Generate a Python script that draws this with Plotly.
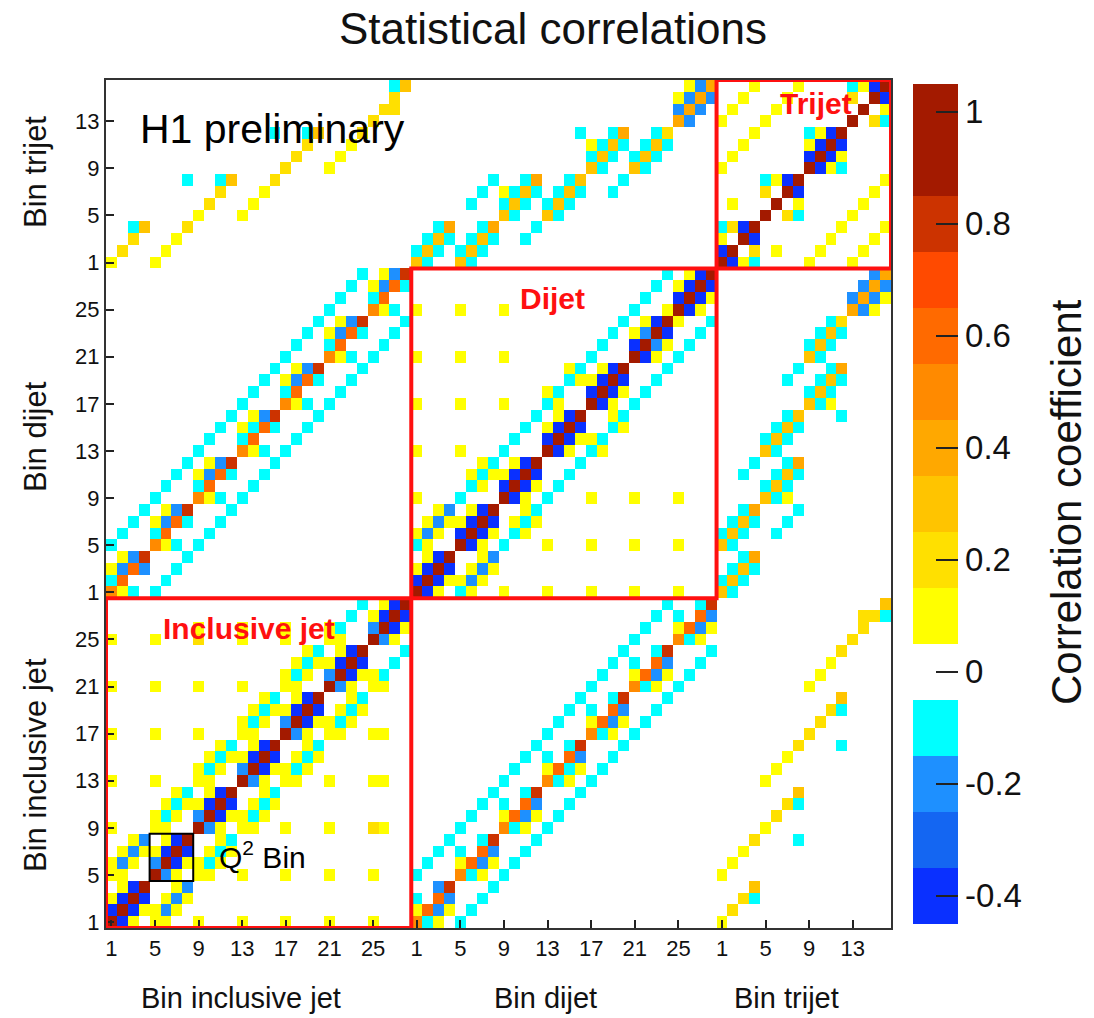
import plotly.graph_objects as go

# ---------------- data ----------------
# level codes: '.'=0, c=-0.1, b=-0.2, B=-0.3, N=-0.4, '1'..'9'=0.1..0.9, X=1.0
LEVELS = {'.': 0.0, 'c': -0.1, 'b': -0.2, 'B': -0.3, 'N': -0.4,
          '1': 0.1, '2': 0.2, '3': 0.3, '4': 0.4, '5': 0.5, '6': 0.6,
          '7': 0.7, '8': 0.8, '9': 0.9, 'X': 1.0}

n_incl, n_dijet, n_trijet = 28, 28, 16
incl_ticks = ["1", "5", "9", "13", "17", "21", "25"]
dijet_ticks = ["1", "5", "9", "13", "17", "21", "25"]
trijet_ticks = ["1", "5", "9", "13"]

# inclusive x inclusive, lower triangle (row r: columns 1..r), groups of 4 bins
ii_lower = [
    "X", "NX", "1NX", ".1NX",
    "11.. X", "1b1. bX", ".1b1 1NX", "..1b .1NX",
    "1... 11.. X", ".... 1c1. bX", ".... .1c1 1NX", ".... ..1c .1NX",
    "1... 1... 11.. X", ".... .... 1c1. bX", ".... .... .1c1 1NX", ".... .... ..1c .1NX",
    "1... 1... 1... 11.. X", ".... .... .... 1c1. bX", ".... .... .... .1c1 1NX", ".... .... .... ..1c .1NX",
    "1... 1... 1... 1... 11.. X", ".... .... .... .... 1c1. bX", ".... .... .... .... .1c1 1NX", ".... .... .... .... ..1c .1NX",
    "1... 1... 2... 1... 1... 11.. X", ".... .... 1... 1... 1... 1c.. bX",
    ".... .... .... .... .... ..c. 1NX", ".... .... .... .... .... ...c .1NX",
]

# dijet rows x inclusive columns
di_block = [
    "51c. c... .... .... .... .... ....",
    "c6.. .c.. .... .... .... .... ....",
    "1b6b ..c. .... .... .... .... ....",
    ".1b8 ...c .... .... .... .... ....",
    "c... 51c. c... .... .... .... ....",
    ".c.. c6.. .c.. .... .... .... ....",
    "..c. 1b6c ..c. .... .... .... ....",
    "...c .1b8 ...c .... .... .... ....",
    ".... c... 51c. c... .... .... ....",
    ".... .c.. c6.. .c.. .... .... ....",
    ".... ..c. 1b6c ..c. .... .... ....",
    ".... ...c .1b8 ...c .... .... ....",
    ".... .... c... 51c. c... .... ....",
    ".... .... .c.. c6.. .c.. .... ....",
    ".... .... ..c. 1c6c ..c. .... ....",
    ".... .... ...c .1b8 ...c .... ....",
    ".... .... .... c... 51c. c... ....",
    ".... .... .... .c.. c6.. .c.. ....",
    ".... .... .... ..c. 1b6c ..c. ....",
    ".... .... .... ...c .1b8 ...c ....",
    ".... .... .... .... c... 51c. c...",
    ".... .... .... .... .c.. c6.. .c..",
    ".... .... .... .... ..c. 1b6c ..c.",
    ".... .... .... .... ...c .1b8 ...c",
    ".... .... .... .... .... c... 51c.",
    ".... .... .... .... .... .c.. c6..",
    ".... .... .... .... .... ..c. 1b6c",
    ".... .... .... .... .... ...c .1b8",
]

# dijet x dijet, lower triangle
dd_lower = [
    "X", "NX", "1NX", ".1NX",
    "c1.. X", "1b1. NX", ".1b1 1NX", "..1b .1NX",
    "1... c... X", ".... .c1. NX", ".... .1c1 1NX", ".... ..1c .1NX",
    "1... 1... c... X", ".... .... .c.. NX", ".... .... ..c. 1NX", ".... .... ...c .1NX",
    "1... 1... 1... c1.. X", ".... .... .... 1c.. NX", ".... .... .... ..c1 1NX", ".... .... .... ..1c .1NX",
    "1... 1... 1... .... c... X", ".... .... .... .... .c.. NX", ".... .... .... .... ..c. 1bX", ".... .... .... .... ...c .1NX",
    "1... 1... 1... .... .... c..1 X", ".... .... .... .... .... .c.. NX",
    ".... .... .... .... .... ..c. 1NX", ".... .... .... .... .... ...c .1NX",
]

# trijet rows x inclusive columns
ti_block = [
    "1... 1... .... .... .... .... ....",
    ".2.. .1.. .... .... .... .... ....",
    "..2. ..1. .... .... .... .... ....",
    "..c3 ...2 .... .... .... .... ....",
    ".... .... 1... 1... .... .... ....",
    ".... .... .2.. .1.. .... .... ....",
    ".... .... ..2. ..1. .... .... ....",
    ".... ...c ..c3 ...2 .... .... ....",
    ".... .... .... .... 2... 1... ....",
    ".... .... .... .... .2.. .1.. ....",
    ".... .... .... .... ..2. ..1. ....",
    ".... .... .... ...c ..c3 ...2 ....",
    ".... .... .... .... .... .... 2...",
    ".... .... .... .... .... .... .22.",
    ".... .... .... .... .... .... ..2.",
    ".... .... .... .... .... .... ..c3",
]

# trijet rows x dijet columns
td_block = [
    "3c.. 3c.. .... .... .... .... ....",
    "c3c. c3c. .... .... .... .... ....",
    ".c3c .c3c ..c. .... .... .... ....",
    "..c4 ..c4 ...c .... .... .... ....",
    ".... .... 3c.. 3c.. .... .... ....",
    ".... .c.. c3c. c3c. .... .... ....",
    ".... ..c. 1c3c .c3c ..c. .... ....",
    ".... ...c ..c4 ..c3 ...c .... ....",
    ".... .... .... .... 3c.. 3c.. ....",
    ".... .... .... .... c3c. c3c. ....",
    ".... .... .... .... 1c3c .c3c ....",
    ".... .... .... ...c ..c4 ..c2 ....",
    ".... .... .... .... .... .... 4b..",
    ".... .... .... .... .... .... b4b.",
    ".... .... .... .... .... .... 1b4b",
    ".... .... .... .... .... .... .1b4",
]

# trijet x trijet, lower triangle
tt_lower = [
    "X", "NX", "1.X", "c2NX",
    ".... X", ".1.. .X", ".... 2.X", ".... c1NX",
    "1... .... X", ".1.. .... NX", "..1. .... 1NX", "...1 .... c1NX",
    "1... 1... .... X", ".1.. .1.. .... .X", "..1. ..1. .... 2.X", "...1 ...1 .... c1NX",
]

# colour bands of the palette (centre value, colour)
band_values = [-0.4, -0.3, -0.2, -0.1, 0.0, 0.1, 0.2, 0.3, 0.4, 0.5, 0.6, 0.7, 0.8, 0.9, 1.0]
band_colors = ["#0a30ff", "#1466f2", "#1e90ff", "#00ffff", "#ffffff", "#ffff00",
               "#ffe000", "#ffc400", "#ffa800", "#ff8a00", "#ff6a00", "#ff4a00",
               "#cc3300", "#a31a00", "#a31a00"]
cbar_ticks = [-0.4, -0.2, 0, 0.2, 0.4, 0.6, 0.8, 1]
cbar_text = ["-0.4", "-0.2", "0", "0.2", "0.4", "0.6", "0.8", "1"]

# ---------------- build matrix ----------------
N = n_incl + n_dijet + n_trijet
Z = [[0.0] * N for _ in range(N)]
o_i, o_d, o_t = 0, n_incl, n_incl + n_dijet


def parse(s):
    return [LEVELS[ch] for ch in s.replace(" ", "")]


def put(r, c, v):
    Z[r][c] = v
    Z[c][r] = v


def fill_lower(rows, off):
    for r, s in enumerate(rows):
        for c, v in enumerate(parse(s)):
            put(off + r, off + c, v)


def fill_block(rows, roff, coff):
    for r, s in enumerate(rows):
        for c, v in enumerate(parse(s)):
            put(roff + r, coff + c, v)


fill_lower(ii_lower, o_i)
fill_lower(dd_lower, o_d)
fill_lower(tt_lower, o_t)
fill_block(di_block, o_d, o_i)
fill_block(ti_block, o_t, o_i)
fill_block(td_block, o_t, o_d)

zmin, zmax = -0.45, 1.05
cs = []
for v, col in zip(band_values, band_colors):
    lo = round((v - 0.05 - zmin) / (zmax - zmin), 6)
    hi = round((v + 0.05 - zmin) / (zmax - zmin), 6)
    cs.append([max(lo, 0.0), col])
    cs.append([min(hi, 1.0), col])

FONT = "Liberation Sans, Arial, Helvetica, sans-serif"

fig = go.Figure()
fig.add_trace(go.Heatmap(
    z=Z, x=list(range(N)), y=list(range(N)),
    colorscale=cs, zmin=zmin, zmax=zmax, xgap=0, ygap=0,
    colorbar=dict(
        x=(913 - 106) / 785, xanchor="left", xpad=0,
        y=(928 - 503.5) / 848, yanchor="middle", ypad=0,
        lenmode="pixels", len=840, thickness=45, outlinewidth=0,
        tickmode="array", tickvals=cbar_ticks, ticktext=cbar_text,
        ticks="inside", ticklen=22, tickwidth=1.5, tickcolor="#222",
        tickfont=dict(size=33, family=FONT, color="#111"),
    ),
    hoverinfo="skip",
))

tickvals, ticktext = [], []
for off, labels in ((o_i, incl_ticks), (o_d, dijet_ticks), (o_t, trijet_ticks)):
    for lab in labels:
        tickvals.append(off + int(lab) - 1)
        ticktext.append(lab)

axis_common = dict(
    range=[-0.5, N - 0.5], tickmode="array", tickvals=tickvals, ticktext=ticktext,
    ticks="inside", ticklen=8, tickwidth=1.5, tickcolor="#222",
    showgrid=False, zeroline=False, showline=True, mirror=True,
    linecolor="#333", linewidth=2,
    tickfont=dict(size=22, family=FONT, color="#111"),
)
fig.update_xaxes(**axis_common)
fig.update_yaxes(**axis_common)

shapes = []
bounds = [(o_i, n_incl), (o_d, n_dijet), (o_t, n_trijet)]
for off, n in bounds:
    shapes.append(dict(type="rect", xref="x", yref="y",
                       x0=off - 0.5, x1=off + n - 0.5, y0=off - 0.5, y1=off + n - 0.5,
                       line=dict(color="#ff1010", width=4), layer="above"))
# Q^2 bin box (inclusive bins 5-8)
shapes.append(dict(type="rect", xref="x", yref="y", x0=3.5, x1=7.5, y0=3.5, y1=7.5,
                   line=dict(color="black", width=2), layer="above"))

ann = []
red = dict(family=FONT, size=30, color="#ff1010")
ann.append(dict(x=12.66, y=24.97, xref="x", yref="y", text="<b>Inclusive jet</b>",
                showarrow=False, font=red))
ann.append(dict(x=40.46, y=52.98, xref="x", yref="y", text="<b>Dijet</b>",
                showarrow=False, font=red))
ann.append(dict(x=64.6, y=69.5, xref="x", yref="y", text="<b>Trijet</b>",
                showarrow=False, font=red))
ann.append(dict(x=2.4, y=67.3, xref="x", yref="y", text="H1 preliminary", xanchor="left",
                showarrow=False, font=dict(family=FONT, size=41, color="black")))
ann.append(dict(x=9.7, y=5.7, xref="x", yref="y", text="Q<sup>2</sup> Bin", xanchor="left",
                showarrow=False, font=dict(family=FONT, size=30, color="black")))

# colour-bar title
ann.append(dict(x=(1066 - 106) / 785, y=(928 - 502) / 848, xref="paper", yref="paper",
                text="Correlation coefficient", textangle=-90, showarrow=False,
                font=dict(size=42, family=FONT, color="#111"),
                xanchor="center", yanchor="middle"))

axfont = dict(family=FONT, size=29, color="#111")
for txt, px in (("Bin inclusive jet", 241), ("Bin dijet", 545), ("Bin trijet", 786)):
    ann.append(dict(x=(px - 106) / 785, y=-0.0825, xref="paper", yref="paper", text=txt,
                    showarrow=False, font=axfont, xanchor="center", yanchor="middle"))
for txt, py in (("Bin trijet", 172), ("Bin dijet", 437), ("Bin inclusive jet", 765)):
    ann.append(dict(x=(35 - 106) / 785, y=(928 - py) / 848, xref="paper", yref="paper",
                    text=txt, textangle=-90, showarrow=False,
                    font=dict(family=FONT, size=31, color="#111"),
                    xanchor="center", yanchor="middle"))

fig.update_layout(
    width=1094, height=1018,
    margin=dict(l=106, r=203, t=80, b=90),
    paper_bgcolor="white", plot_bgcolor="white",
    shapes=shapes, annotations=ann,
    title=dict(text="Statistical correlations", x=553 / 1094, xref="container", xanchor="center",
               y=1 - 29 / 1018, yref="container", yanchor="middle",
               font=dict(family=FONT, size=44, color="#111")),
)

fig.write_html("out.html")
